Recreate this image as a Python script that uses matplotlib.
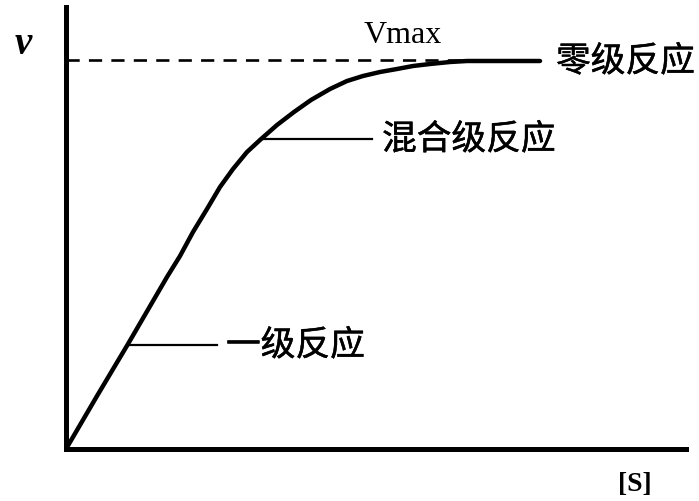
import matplotlib
matplotlib.use("Agg")
import matplotlib.pyplot as plt
import matplotlib.patheffects as pe

plt.rcParams['font.family'] = ['Noto Sans CJK SC', 'DejaVu Sans']

# curve values (arbitrary units)
s_vals = [0, 31, 62, 101, 114, 127, 141, 154, 167, 181, 194, 211, 228, 245, 264,
          281, 297, 314, 331, 347, 364, 384, 401, 417, 474]
v_vals = [0, 53, 105, 172, 193, 217, 240, 262, 280, 297, 309, 324, 337, 349, 360,
          368, 373, 377, 380, 383, 385, 387, 388, 388, 388]
vmax = 389
vmax_end = 474

# annotation anchors on the curve
labels = ['一级反应', '混合级反应', '零级反应']
label_anchor_s = [62, 194, None]
label_anchor_v = [104, 310, 388]
label_line_end = [151, 306, None]
label_text_s = [160, 316, 490]

W, H = 699, 502
fig = plt.figure(figsize=(W / 100, H / 100), dpi=100)
ax = fig.add_axes([66 / W, (H - 450) / H, (686 - 66) / W, (450 - 8) / H])
ax.set_xlim(0, 620)
ax.set_ylim(0, 442)

ax.plot(s_vals, v_vals, color='black', lw=3.2, solid_capstyle='round',
        solid_joinstyle='round', zorder=3)
ax.plot([0, vmax_end], [vmax, vmax], color='black', lw=1.9, ls=(0, (5, 3.5)), zorder=2)

thick = [pe.withStroke(linewidth=0.35, foreground='black')]
for lab, a_s, a_v, e_s, t_s in zip(labels, label_anchor_s, label_anchor_v, label_line_end, label_text_s):
    if a_s is not None:
        ax.plot([a_s, e_s], [a_v, a_v], color='black', lw=1.6, zorder=2)
    ax.text(t_s, a_v - 1, lab, fontsize=25, va='center', ha='left', color='black',
            path_effects=thick)

ax.text(298, 407, 'Vmax', fontsize=23, family='Liberation Serif', ha='left', va='baseline')
ax.text(-43, 405, 'v', fontsize=28, family='Liberation Serif', style='italic', weight='bold',
        ha='center', va='center', clip_on=False)
ax.text(552, -35, '[S]', fontsize=20, family='Liberation Serif', weight='bold',
        ha='left', va='center', clip_on=False)

for side in ['top', 'right']:
    ax.spines[side].set_visible(False)
for side in ['left', 'bottom']:
    ax.spines[side].set_linewidth(3.6)
ax.set_xticks([])
ax.set_yticks([])

fig.savefig('out.png', dpi=100)
